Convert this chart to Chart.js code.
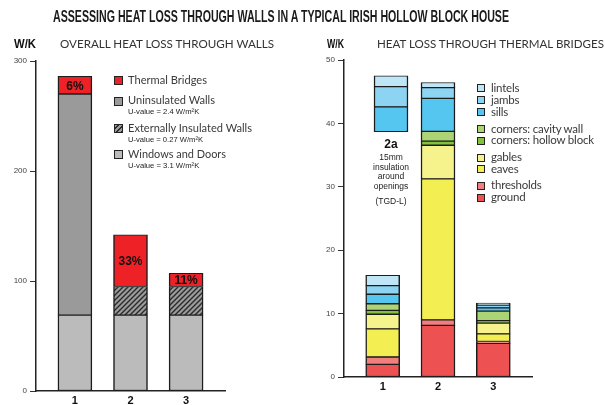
<!DOCTYPE html>
<html><head><meta charset="utf-8">
<script src="https://cdn.jsdelivr.net/npm/chart.js@4/dist/chart.umd.min.js"></script>
<style>
html,body{margin:0;padding:0;background:#fff;}
#wrap{position:relative;width:605px;height:405px;overflow:hidden;font-family:Lato,'Open Sans',sans-serif;color:#333;}
canvas{position:absolute;top:0;}
.abs{position:absolute;white-space:nowrap;line-height:1;transform-origin:0 50%;}
.sw{position:absolute;box-sizing:border-box;border:1px solid #222;}
</style></head><body>
<div id="wrap">
<canvas id="c1" width="300" height="405" style="left:0;width:300px;height:405px"></canvas>
<canvas id="c2" width="305" height="405" style="left:300px;width:305px;height:405px"></canvas>
</div>
<script>
// ---------- DATA ----------
const categories = ['1', '2', '3'];
// Overall heat loss through walls (W/K)
const windowsDoors      = [69, 69, 69];
const uninsulatedWalls  = [201, null, null];
const extInsulatedWalls = [null, 26, 26];
const thermalBridges    = [16, 47, 12];
const bridgePercent     = ['6%', '33%', '11%'];
const leftTicks = [0, 100, 200, 300];
// Heat loss through thermal bridges (W/K)
const ground      = [2.0, 8.15, 5.3];
const thresholds  = [1.15, 0.85, 0.3];
const eaves       = [4.45, 22.25, 1.2];
const gables      = [2.3, 5.3, 1.7];
const hollowBlock = [0.6, 0.65, 0.4];
const cavityWall  = [1.05, 1.55, 1.5];
const sills       = [1.5, 5.2, 0.5];
const jambs       = [1.35, 1.7, 0.45];
const lintels     = [1.65, 0.8, 0.3];
// option 2a: 15mm insulation around openings (floating stack from base)
const opt2aBase = 38.7;
const opt2aSills = 3.9;
const opt2aJambs = 3.2;
const opt2aLintels = 1.7;
const rightTicks = [0, 10, 20, 30, 40, 50];

// ---------- STYLE ----------
const POS_2A = 1.15;
function hatch() {
  const c = document.createElement('canvas'); c.width = 5; c.height = 5;
  const g = c.getContext('2d');
  g.fillStyle = '#9c9c9c'; g.fillRect(0, 0, 5, 5);
  g.strokeStyle = '#2a2a2a'; g.lineWidth = 1.4;
  g.beginPath();
  g.moveTo(-1, 6); g.lineTo(6, -1);
  g.moveTo(-1, 1); g.lineTo(1, -1);
  g.moveTo(4, 6); g.lineTo(6, 4);
  g.stroke();
  return g.createPattern(c, 'repeat');
}
const HATCH = hatch();
const pts = arr => categories.map((c, i) => ({x: i + 1, y: arr[i]}));
const bw = {left: 1.5, right: 1.5, top: 1, bottom: 1};
const ds = (label, arr, color, extra) => Object.assign({label, data: pts(arr), backgroundColor: color,
  borderColor: '#1c1c1c', borderWidth: bw, borderSkipped: false, barThickness: 34, grouped: false}, extra || {});

function xScale(extra) {
  return Object.assign({type: 'linear', min: 0.3, max: 3.7, stacked: true, offset: false,
    grid: {display: false, drawTicks: false, offset: false},
    border: {display: true, color: '#222', width: 1.5},
    afterBuildTicks: s => { s.ticks = categories.map((c, i) => ({value: i + 1})); },
    afterFit: s => { s.height = 14; },
    ticks: {padding: 3, color: '#111', font: {family: 'Liberation Sans', size: 11, weight: 'bold'},
      callback: v => categories[v - 1] || ''}}, extra || {});
}
function yScale(max, ticks, width) {
  return {min: 0, max: max, stacked: true,
    grid: {display: true, drawOnChartArea: false, drawTicks: true, tickLength: 6, color: '#333', lineWidth: 1},
    border: {display: true, color: '#222', width: 1.5},
    afterBuildTicks: s => { s.ticks = ticks.map(v => ({value: v})); },
    afterFit: s => { s.width = width; },
    ticks: {padding: 3, color: '#444', font: {family: 'Liberation Sans', size: 8}}};
}

const pctPlugin = {
  id: 'pct',
  afterDatasetsDraw(chart) {
    const meta = chart.getDatasetMeta(3);
    const ctx = chart.ctx;
    ctx.save();
    ctx.fillStyle = '#111';
    ctx.font = 'bold 12px "Liberation Sans"';
    ctx.textAlign = 'center'; ctx.textBaseline = 'middle';
    meta.data.forEach((el, i) => {
      if (thermalBridges[i] == null) return;
      ctx.fillText(bridgePercent[i], el.x, (el.y + el.base) / 2 + 1);
    });
    ctx.restore();
  }
};

new Chart(document.getElementById('c1'), {
  type: 'bar',
  data: {datasets: [
    ds('Windows and Doors', windowsDoors, '#bbbbbb'),
    ds('Uninsulated Walls', uninsulatedWalls, '#9a9a9a'),
    ds('Externally Insulated Walls', extInsulatedWalls, HATCH),
    ds('Thermal Bridges', thermalBridges, '#ee2226'),
  ]},
  options: {responsive: false, animation: false, devicePixelRatio: 1,
    layout: {padding: {top: 61, right: 75, left: 0, bottom: 0}},
    plugins: {legend: {display: false}, tooltip: {enabled: false}},
    scales: {x: xScale(), y: yScale(300, leftTicks, 36)}},
  plugins: [pctPlugin]
});

const rightSeries = [
  ['ground', ground, '#ee5152'],
  ['thresholds', thresholds, '#f27e7e'],
  ['eaves', eaves, '#f3ee52'],
  ['gables', gables, '#f6f28c'],
  ['corners: hollow block', hollowBlock, '#82c13c'],
  ['corners: cavity wall', cavityWall, '#acd474'],
  ['sills', sills, '#55c6ef'],
  ['jambs', jambs, '#8dd4f2'],
  ['lintels', lintels, '#bee6f7'],
];
const ds2a = (label, v, color) => ({label, data: [{x: POS_2A, y: v}], xAxisID: 'xb', grouped: false,
  backgroundColor: color, borderColor: color === 'transparent' ? 'transparent' : '#1c1c1c',
  borderWidth: color === 'transparent' ? 0 : bw, borderSkipped: false, barThickness: 34});

new Chart(document.getElementById('c2'), {
  type: 'bar',
  data: {datasets: rightSeries.map(s => ds(s[0], s[1], s[2])).concat([
    ds2a('2a base', opt2aBase, 'transparent'),
    ds2a('2a sills', opt2aSills, '#55c6ef'),
    ds2a('2a jambs', opt2aJambs, '#8dd4f2'),
    ds2a('2a lintels', opt2aLintels, '#bee6f7'),
  ])},
  options: {responsive: false, animation: false, devicePixelRatio: 1,
    layout: {padding: {top: 60, right: 73, left: 0, bottom: 0}},
    plugins: {legend: {display: false}, tooltip: {enabled: false}},
    scales: {x: xScale(), xb: xScale({display: false}), y: yScale(50, rightTicks, 44)}}
});

// ---------- TEXT / LEGENDS (HTML) ----------
const wrap = document.getElementById('wrap');
function txt(s, x, yc, fs, w, style) {
  const d = document.createElement('div');
  d.className = 'abs'; d.textContent = s;
  d.style.left = x + 'px'; d.style.top = (yc - fs * 0.55) + 'px'; d.style.fontSize = fs + 'px';
  if (style) d.style.cssText += style;
  wrap.appendChild(d);
  if (w) { const r = d.getBoundingClientRect().width; d.style.transform = 'scaleX(' + (w / r) + ')'; }
  return d;
}
function ctxt(s, xc, yc, fs, style) {
  const d = txt(s, 0, yc, fs, 0, style);
  const r = d.getBoundingClientRect().width;
  d.style.left = (xc - r / 2) + 'px';
  return d;
}
function sw(x, yc, size, bg) {
  const d = document.createElement('div'); d.className = 'sw';
  d.style.left = x + 'px'; d.style.top = (yc - size / 2) + 'px';
  d.style.width = size + 'px'; d.style.height = size + 'px'; d.style.background = bg;
  wrap.appendChild(d); return d;
}
txt('ASSESSING HEAT LOSS THROUGH WALLS IN A TYPICAL IRISH HOLLOW BLOCK HOUSE', 53, 18, 16, 456,
  'font-family:"Liberation Sans";font-weight:bold;color:#1a1a1a;');
txt('OVERALL HEAT LOSS THROUGH WALLS', 60, 45, 12, 214, 'color:#333;');
txt('HEAT LOSS THROUGH THERMAL BRIDGES', 377, 45, 12, 227, 'color:#333;');
txt('W/K', 14, 45, 12, 22, 'font-family:"Liberation Sans";font-weight:bold;color:#111;');
txt('W/K', 327, 45, 12, 17, 'font-family:"Liberation Sans";font-weight:bold;color:#111;');

// left legend
const hatchCss = 'repeating-linear-gradient(-45deg,#2a2a2a 0 1.4px,#9c9c9c 1.4px 3.5px)';
const leftLegend = [
  ['Thermal Bridges', '#ee2226', null, 80.7, 79],
  ['Uninsulated Walls', '#9a9a9a', 'U-value = 2.4 W/m²K', 101, 87],
  ['Externally Insulated Walls', hatchCss, 'U-value = 0.27 W/m²K', 128.3, 124],
  ['Windows and Doors', '#bbbbbb', 'U-value = 3.1 W/m²K', 154.3, 98],
];
leftLegend.forEach(l => {
  sw(114, l[3], 9, l[1]);
  txt(l[0], 128, l[3], 12, l[4], 'color:#3a3a3a;');
  if (l[2]) txt(l[2], 128, l[3] + 11.7, 8, l[2].length * 3.75, 'font-family:"Liberation Sans";color:#222;');
});

// right legend (top-down)
const rightY = [88.3, 100.3, 112.3, 129, 140.5, 157.5, 169.3, 185.7, 197.8];
rightSeries.slice().reverse().forEach((s, i) => {
  sw(476.5, rightY[i], 8, s[2]);
  txt(s[0], 491, rightY[i], 11.5, null, 'color:#3a3a3a;letter-spacing:-0.2px;');
});

// 2a annotation
ctxt('2a', 391, 144.5, 12, 'font-family:"Liberation Sans";font-weight:bold;color:#111;');
[['15mm', 157.7], ['insulation', 167.3], ['around', 176.9], ['openings', 186.7], ['(TGD-L)', 201.7]]
  .forEach(t => ctxt(t[0], 391, t[1], 8.5, 'font-family:"Liberation Sans";color:#222;'));
</script>
</body></html>
